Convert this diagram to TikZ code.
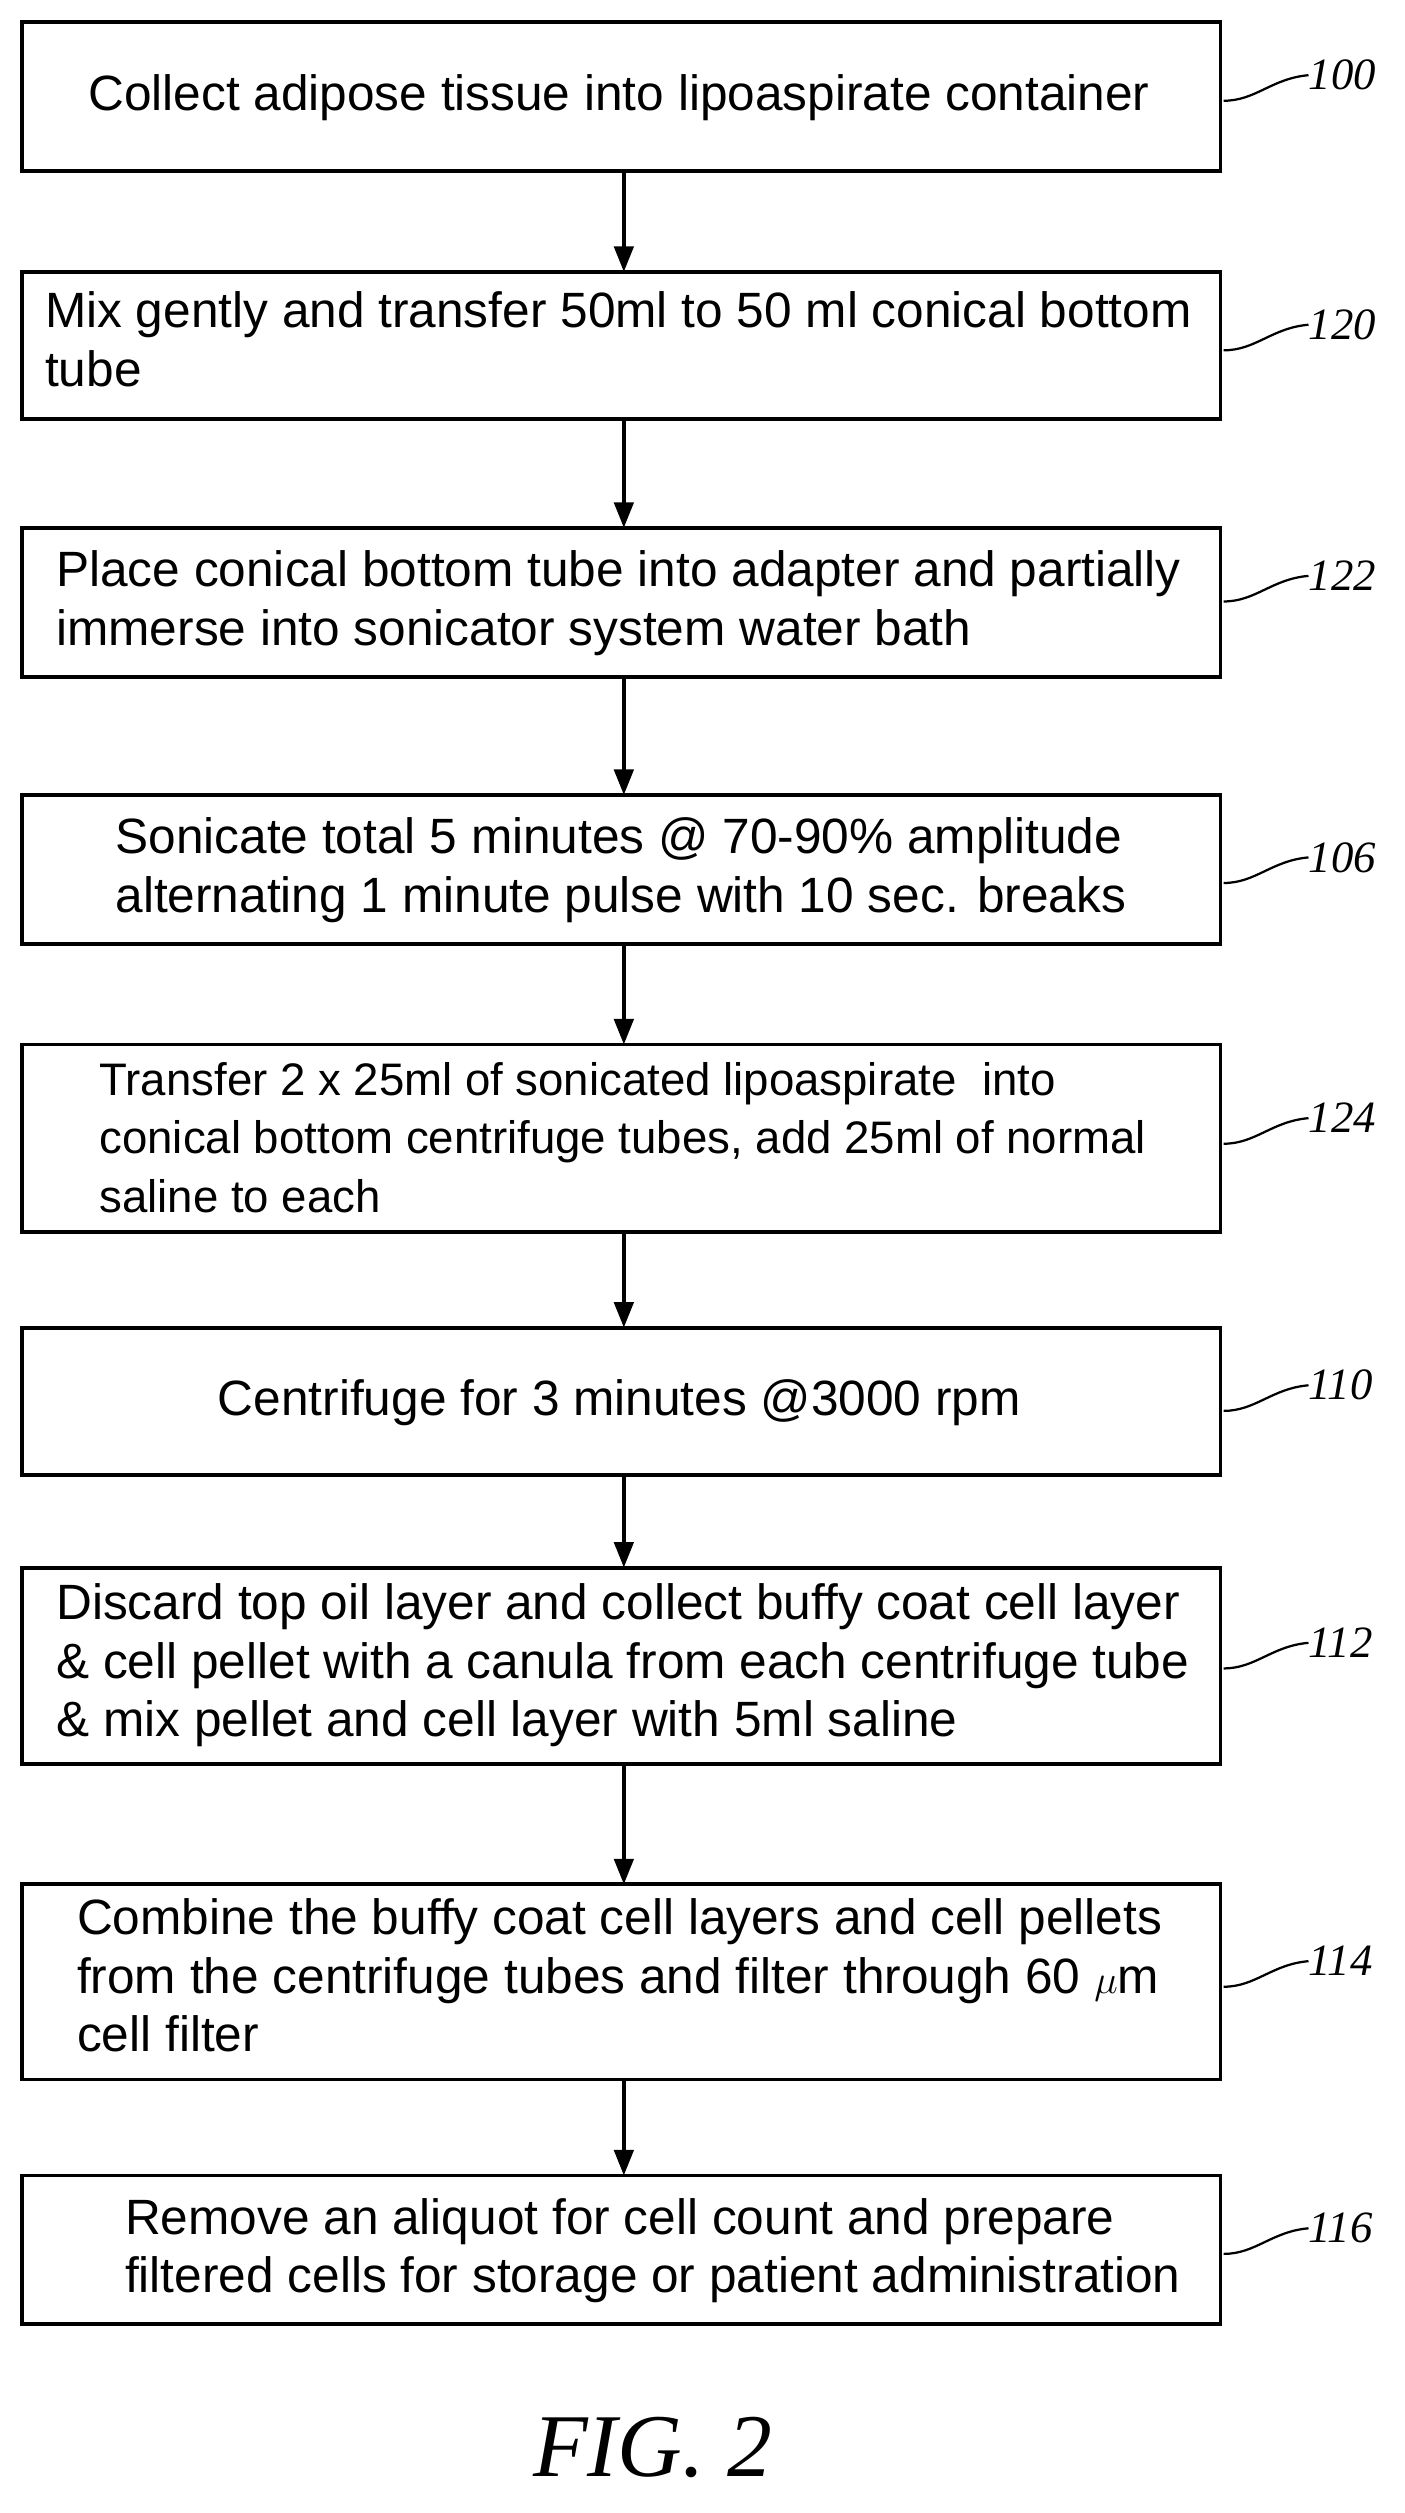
\documentclass[tikz,border=0pt]{standalone}
\usepackage{fontspec}
\setmainfont{Liberation Sans}
\newfontfamily\lblfont{Liberation Serif}
\usetikzlibrary{arrows.meta}
\begin{document}
\begin{tikzpicture}[x=1pt,y=-1pt,
  box/.style={draw,line width=2.4pt,inner sep=0pt},
  txt/.style={anchor=west,align=left,font=\fontsize{31}{36.5}\selectfont,inner sep=0pt},
  lbl/.style={font=\lblfont\itshape\fontsize{28}{30}\selectfont,anchor=west,inner sep=0pt},
  arr/.style={-{Triangle[length=16pt,width=12pt]},line width=2.6pt},
  lead/.style={line width=1.4pt}]
\useasboundingbox (0,0) rectangle (878,1571);
\def\mkbox#1#2#3{\path[box] (14,#2) rectangle (763,#3); \coordinate (#1t) at (390,#2); \coordinate (#1b) at (390,#3);}
\mkbox{a}{14}{107}
\mkbox{b}{170}{262}
\mkbox{c}{330}{423}
\mkbox{d}{497}{590}
\mkbox{e}{653}{770}
\mkbox{f}{830}{922}
\mkbox{g}{980}{1103}
\mkbox{h}{1178}{1300}
\mkbox{i}{1360}{1453}
\node[txt] (ta) at (55,61) {Collect adipose tissue into lipoaspirate container};
\node[txt] (tb) at (28,212) {Mix gently and transfer 50ml to 50 ml conical bottom\\tube};
\node[txt] (tc) at (35,377) {Place conical bottom tube into adapter and partially\\immerse into sonicator system water bath};
\node[txt] (td) at (72,544) {Sonicate total 5 minutes @ 70-90\% amplitude\\alternating 1 minute pulse with 10 sec. breaks};
\node[txt,font=\fontsize{28.5}{36.5}\selectfont] (te) at (62,711) {Transfer 2 x 25ml of sonicated lipoaspirate\ \ into\\conical bottom centrifuge tubes, add 25ml of normal\\saline to each};
\node[txt] (tf) at (136,877) {Centrifuge for 3 minutes @3000 rpm};
\node[txt] (tg) at (35,1041) {Discard top oil layer and collect buffy coat cell layer\\\& cell pellet with a canula from each centrifuge tube\\\& mix pellet and cell layer with 5ml saline};
\node[txt] (th) at (48,1235) {Combine the buffy coat cell layers and cell pellets\\from the centrifuge tubes and filter through 60 $\mu$m\\cell filter};
\node[txt] (ti) at (78,1407) {Remove an aliquot for cell count and prepare\\filtered cells for storage or patient administration};
\foreach \p/\q in {a/b,b/c,c/d,d/e,e/f,f/g,g/h,h/i} \draw[arr] (\p b) -- (\q t);
\foreach \n/\y/\l in {a/47/100,b/203/120,c/360/122,d/536/106,e/699/124,f/866/110,g/1027/112,h/1226/114,i/1393/116}{
  \node[lbl] (l\n) at (818,\y) {\l};
  \coordinate (s\n) at (765,\y+16);
  \draw[lead] (s\n) .. controls (785,\y+16) and (795,\y+2) .. (l\n.west);
}
\node[font=\lblfont\itshape\fontsize{56}{60}\selectfont] (fig) at (408,1530) {FIG. 2};
\end{tikzpicture}
\end{document}
